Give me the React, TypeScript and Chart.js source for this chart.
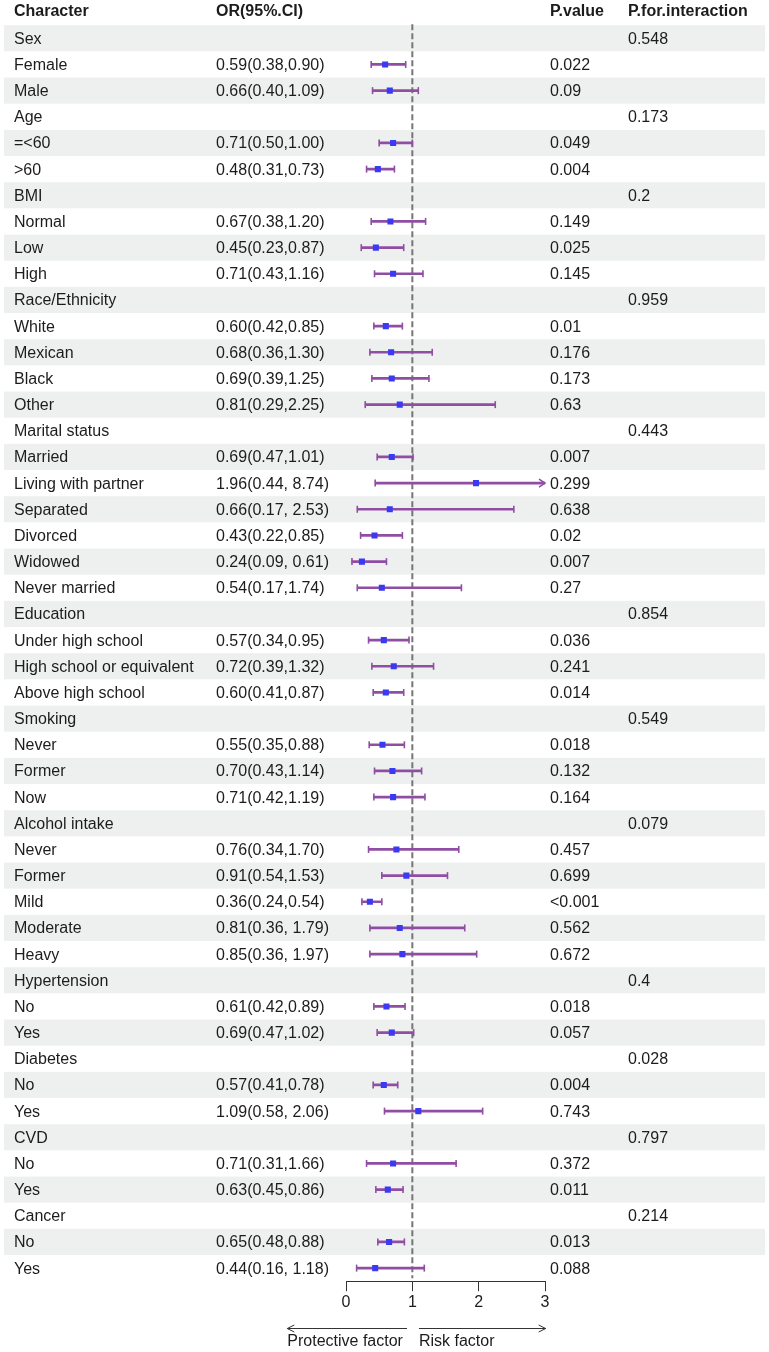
import React, { useEffect, useRef } from "react";
import { Chart, registerables } from "chart.js";

Chart.register(...registerables);

// Row labels (group headers have no estimate)
const characters = [
  "Sex", "Female", "Male",
  "Age", "=<60", ">60",
  "BMI", "Normal", "Low", "High",
  "Race/Ethnicity", "White", "Mexican", "Black", "Other",
  "Marital status", "Married", "Living with partner", "Separated", "Divorced", "Widowed", "Never married",
  "Education", "Under high school", "High school or equivalent", "Above high school",
  "Smoking", "Never", "Former", "Now",
  "Alcohol intake", "Never", "Former", "Mild", "Moderate", "Heavy",
  "Hypertension", "No", "Yes",
  "Diabetes", "No", "Yes",
  "CVD", "No", "Yes",
  "Cancer", "No", "Yes",
];

const oddsRatio: (number | null)[] = [
  null, 0.59, 0.66,
  null, 0.71, 0.48,
  null, 0.67, 0.45, 0.71,
  null, 0.60, 0.68, 0.69, 0.81,
  null, 0.69, 1.96, 0.66, 0.43, 0.24, 0.54,
  null, 0.57, 0.72, 0.60,
  null, 0.55, 0.70, 0.71,
  null, 0.76, 0.91, 0.36, 0.81, 0.85,
  null, 0.61, 0.69,
  null, 0.57, 1.09,
  null, 0.71, 0.63,
  null, 0.65, 0.44,
];

const ciLower: (number | null)[] = [
  null, 0.38, 0.40,
  null, 0.50, 0.31,
  null, 0.38, 0.23, 0.43,
  null, 0.42, 0.36, 0.39, 0.29,
  null, 0.47, 0.44, 0.17, 0.22, 0.09, 0.17,
  null, 0.34, 0.39, 0.41,
  null, 0.35, 0.43, 0.42,
  null, 0.34, 0.54, 0.24, 0.36, 0.36,
  null, 0.42, 0.47,
  null, 0.41, 0.58,
  null, 0.31, 0.45,
  null, 0.48, 0.16,
];

const ciUpper: (number | null)[] = [
  null, 0.90, 1.09,
  null, 1.00, 0.73,
  null, 1.20, 0.87, 1.16,
  null, 0.85, 1.30, 1.25, 2.25,
  null, 1.01, 8.74, 2.53, 0.85, 0.61, 1.74,
  null, 0.95, 1.32, 0.87,
  null, 0.88, 1.14, 1.19,
  null, 1.70, 1.53, 0.54, 1.79, 1.97,
  null, 0.89, 1.02,
  null, 0.78, 2.06,
  null, 1.66, 0.86,
  null, 0.88, 1.18,
];

// Whether the printed interval has a space after the comma
const ciSpaced: boolean[] = [
  false, false, false,
  false, false, false,
  false, false, false, false,
  false, false, false, false, false,
  false, false, true, true, false, true, false,
  false, false, false, false,
  false, false, false, false,
  false, false, false, false, true, true,
  false, false, false,
  false, false, true,
  false, false, false,
  false, false, true,
];

const pValues = [
  "", "0.022", "0.09",
  "", "0.049", "0.004",
  "", "0.149", "0.025", "0.145",
  "", "0.01", "0.176", "0.173", "0.63",
  "", "0.007", "0.299", "0.638", "0.02", "0.007", "0.27",
  "", "0.036", "0.241", "0.014",
  "", "0.018", "0.132", "0.164",
  "", "0.457", "0.699", "<0.001", "0.562", "0.672",
  "", "0.018", "0.057",
  "", "0.004", "0.743",
  "", "0.372", "0.011",
  "", "0.013", "0.088",
];

const pInteraction = [
  "0.548", "", "",
  "0.173", "", "",
  "0.2", "", "", "",
  "0.959", "", "", "", "",
  "0.443", "", "", "", "", "", "",
  "0.854", "", "", "",
  "0.549", "", "", "",
  "0.079", "", "", "", "", "",
  "0.4", "", "",
  "0.028", "", "",
  "0.797", "", "",
  "0.214", "", "",
];

const headers = ["Character", "OR(95%.CI)", "P.value", "P.for.interaction"];
const xTicks = [0, 1, 2, 3];
const directionLabels = ["Protective factor", "Risk factor"];

const FONT = "'Liberation Sans', Arial, Helvetica, sans-serif";
const TEXT = "#1c1c1c";
const BAND = "#eef0ef";
const PURPLE = "#904ea3";
const BLUE = "#3a3af2";

const fmt = (v: number) => v.toFixed(2);
const orLabel = (i: number) => {
  const o = oddsRatio[i];
  const lo = ciLower[i];
  const hi = ciUpper[i];
  if (o == null || lo == null || hi == null) return "";
  return `${fmt(o)}(${fmt(lo)},${ciSpaced[i] ? " " : ""}${fmt(hi)})`;
};

const tablePlugin = {
  id: "forestTable",
  beforeDraw(chart: any) {
    const { ctx, scales } = chart;
    const y = scales.y;
    const h = y.getPixelForValue(1) - y.getPixelForValue(0);
    ctx.save();
    ctx.fillStyle = BAND;
    characters.forEach((_, i) => {
      if (i % 2 === 0) {
        const c = y.getPixelForValue(i);
        ctx.fillRect(4, c - h / 2, 761, h);
      }
    });
    ctx.restore();
  },
  beforeDatasetsDraw(chart: any) {
    const { ctx, scales, chartArea } = chart;
    const px = scales.x.getPixelForValue(1);
    ctx.save();
    ctx.strokeStyle = "#767676";
    ctx.lineWidth = 2;
    ctx.setLineDash([6, 3]);
    ctx.beginPath();
    ctx.moveTo(px, chartArea.top - 1);
    ctx.lineTo(px, chartArea.bottom - 3);
    ctx.stroke();
    ctx.restore();
  },
  afterDatasetsDraw(chart: any) {
    const { ctx, scales } = chart;
    const x = scales.x;
    const y = scales.y;
    ctx.save();
    ctx.strokeStyle = PURPLE;
    ctx.lineWidth = 1.6;
    characters.forEach((_, i) => {
      const lo = ciLower[i];
      const hi = ciUpper[i];
      if (lo == null || hi == null) return;
      const c = y.getPixelForValue(i);
      const xl = x.getPixelForValue(lo);
      ctx.beginPath();
      ctx.moveTo(xl, c - 3.5);
      ctx.lineTo(xl, c + 3.5);
      ctx.stroke();
      if (hi > x.max) {
        const xe = x.getPixelForValue(x.max);
        ctx.beginPath();
        ctx.moveTo(xe - 6, c - 4);
        ctx.lineTo(xe, c);
        ctx.lineTo(xe - 6, c + 4);
        ctx.stroke();
      } else {
        const xh = x.getPixelForValue(hi);
        ctx.beginPath();
        ctx.moveTo(xh, c - 3.5);
        ctx.lineTo(xh, c + 3.5);
        ctx.stroke();
      }
    });
    ctx.restore();
  },
  afterDraw(chart: any) {
    const { ctx, scales } = chart;
    const y = scales.y;
    const x = scales.x;
    ctx.save();
    ctx.fillStyle = TEXT;
    ctx.textBaseline = "middle";
    ctx.textAlign = "left";
    const cols = [14, 216, 550, 628];
    ctx.font = `bold 16px ${FONT}`;
    headers.forEach((t, k) => ctx.fillText(t, cols[k], 12));
    ctx.font = `16px ${FONT}`;
    characters.forEach((name, i) => {
      const c = y.getPixelForValue(i) + 1;
      ctx.fillText(name, cols[0], c);
      ctx.fillText(orLabel(i), cols[1], c);
      ctx.fillText(pValues[i], cols[2], c);
      ctx.fillText(pInteraction[i], cols[3], c);
    });

    // Direction arrows below the axis
    const ay = 1328.5;
    const l0 = x.getPixelForValue(-0.885);
    const l1 = x.getPixelForValue(0.92);
    const r0 = x.getPixelForValue(1.1);
    const r1 = x.getPixelForValue(3.01);
    ctx.strokeStyle = "#333";
    ctx.lineWidth = 1;
    ctx.beginPath();
    ctx.moveTo(l1, ay);
    ctx.lineTo(l0, ay);
    ctx.moveTo(l0 + 7, ay - 3.5);
    ctx.lineTo(l0, ay);
    ctx.lineTo(l0 + 7, ay + 3.5);
    ctx.moveTo(r0, ay);
    ctx.lineTo(r1, ay);
    ctx.moveTo(r1 - 7, ay - 3.5);
    ctx.lineTo(r1, ay);
    ctx.lineTo(r1 - 7, ay + 3.5);
    ctx.stroke();
    ctx.fillText(directionLabels[0], l0, 1342);
    ctx.fillText(directionLabels[1], r0, 1342);
    ctx.restore();
  },
};

export default function App() {
  const ref = useRef<HTMLCanvasElement | null>(null);

  useEffect(() => {
    if (!ref.current) return;
    const chart = new Chart(ref.current, {
      type: "bar",
      data: {
        labels: characters,
        datasets: [
          {
            type: "line",
            label: "OR",
            data: oddsRatio,
            showLine: false,
            pointStyle: "rect",
            pointRadius: 4.3,
            pointBackgroundColor: BLUE,
            pointBorderWidth: 0,
            order: 0,
          } as any,
          {
            type: "bar",
            label: "95% CI",
            data: characters.map((_, i) =>
              ciLower[i] == null ? null : [ciLower[i], ciUpper[i]]
            ),
            backgroundColor: PURPLE,
            borderWidth: 0,
            barThickness: 2,
            order: 1,
          } as any,
        ],
      },
      options: {
        indexAxis: "y",
        responsive: false,
        animation: false,
        events: [],
        layout: { padding: { left: 346, right: 224, top: 25.2, bottom: 0 } },
        plugins: { legend: { display: false }, tooltip: { enabled: false } },
        scales: {
          y: { type: "category", display: false, offset: true },
          x: {
            type: "linear",
            min: 0,
            max: 3,
            position: "bottom",
            afterFit: (scale: any) => {
              scale.height = 70.8;
            },
            afterBuildTicks: (scale: any) => {
              scale.ticks = xTicks.map((v) => ({ value: v }));
            },
            border: { display: true, color: "#333", width: 1 },
            grid: {
              drawOnChartArea: false,
              drawTicks: true,
              tickLength: 10,
              color: "#333",
              lineWidth: 1,
            },
            ticks: {
              color: TEXT,
              padding: 2,
              font: { family: FONT, size: 16 },
            },
          },
        },
      } as any,
      plugins: [tablePlugin],
    });
    return () => chart.destroy();
  }, []);

  return (
    <div style={{ position: "absolute", left: 0, top: 0, width: 769, height: 1352 }}>
      <canvas ref={ref} width={769} height={1352} style={{ display: "block" }} />
    </div>
  );
}
